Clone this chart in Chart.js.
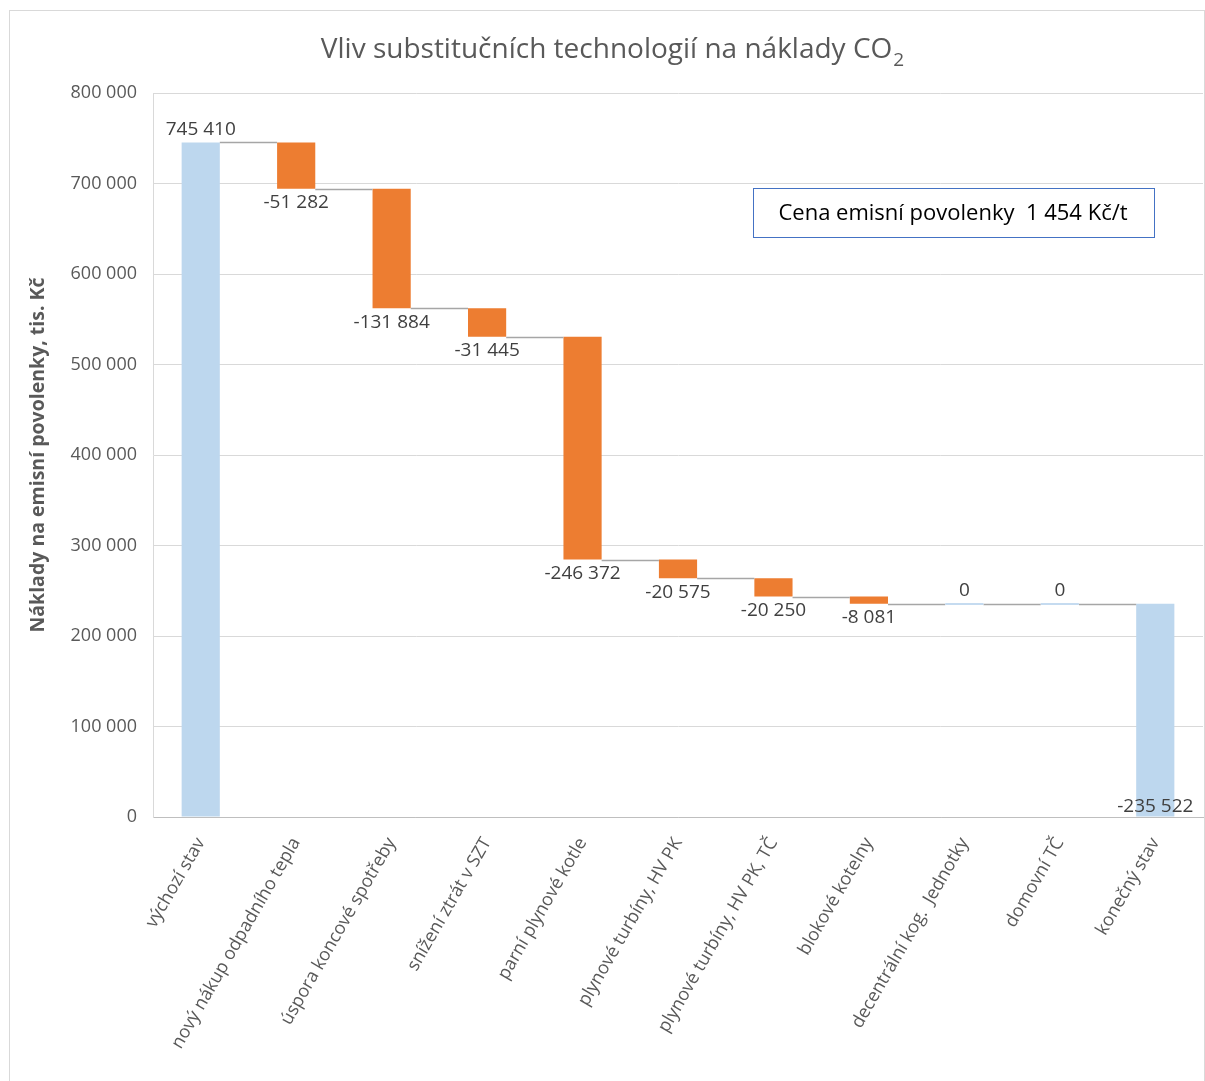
<!DOCTYPE html>
<html>
<head>
<meta charset="utf-8">
<script src="https://cdn.jsdelivr.net/npm/chart.js@4/dist/chart.umd.min.js"></script>
<style>
  html, body { margin: 0; padding: 0; background: #fff; }
  #wrap { width: 1205px; height: 1081px; position: relative; }
</style>
</head>
<body>
<div id="wrap"><canvas id="c" width="1205" height="1081"></canvas></div>
<script>
// Waterfall: starting cost, stepwise changes, closing total
const categories = [
  'výchozí stav',
  'nový nákup odpadního tepla',
  'úspora koncové spotřeby',
  'snížení ztrát v SZT',
  'parní plynové kotle',
  'plynové turbíny, HV PK',
  'plynové turbíny, HV PK, TČ',
  'blokové kotelny',
  'decentrální kog.  Jednotky',
  'domovní TČ',
  'konečný stav'
];
const startTotal = 745410;
const changes = [-51282, -131884, -31445, -246372, -20575, -20250, -8081, 0, 0];
const endTotal = -235522;          // closing total as labelled; bar height is its magnitude
const yTicks = [0, 100000, 200000, 300000, 400000, 500000, 600000, 700000, 800000];
const titleText = 'Vliv substitučních technologií na náklady CO';
const titleSub = '2';
const yTitle = 'Náklady na emisní povolenky, tis. Kč';
const noteText = 'Cena emisní povolenky  1 454 Kč/t';

const FONT = '"Open Sans", "DejaVu Sans", sans-serif';
const C_TOTAL = '#bdd7ee';
const C_DOWN = '#ed7d31';
const C_UP = '#ed7d31';

function fmt(n) {
  const s = String(Math.abs(Math.round(n))).replace(/\B(?=(\d{3})+(?!\d))/g, ' ');
  return (n < 0 ? '-' : '') + s;
}

// floating bar ranges
const ranges = [[0, startTotal]];
const kinds = ['total'];
let level = startTotal;
for (const c of changes) {
  const next = level + c;
  ranges.push([Math.min(level, next), Math.max(level, next)]);
  kinds.push(c < 0 ? 'down' : (c > 0 ? 'up' : 'zero'));
  level = next;
}
ranges.push([0, Math.abs(endTotal)]);
kinds.push('end');
const labelValues = [startTotal, ...changes, endTotal];
// level at the right side of each bar (for connectors)
const endLevels = [startTotal];
{ let l = startTotal; for (const c of changes) { l += c; endLevels.push(l); } endLevels.push(Math.abs(endTotal)); }

const colors = kinds.map(k => k === 'down' ? C_DOWN : (k === 'up' ? C_UP : C_TOTAL));

const decor = {
  id: 'decor',
  beforeDraw(chart) {
    const ctx = chart.ctx;
    ctx.save();
    ctx.fillStyle = '#fff';
    ctx.fillRect(0, 0, chart.width, chart.height);
    ctx.strokeStyle = '#d9d9d9';
    ctx.lineWidth = 1;
    ctx.strokeRect(9.5, 10.5, 1195, 1100);
    // title with subscript
    ctx.fillStyle = '#595959';
    ctx.textBaseline = 'alphabetic';
    ctx.font = '28px ' + FONT;
    const w1 = ctx.measureText(titleText).width;
    ctx.font = '19px ' + FONT;
    const w2 = ctx.measureText(titleSub).width;
    const x0 = 612 - (w1 + w2) / 2;
    ctx.font = '28px ' + FONT;
    ctx.textAlign = 'left';
    ctx.fillText(titleText, x0, 58);
    ctx.font = '19px ' + FONT;
    ctx.fillText(titleSub, x0 + w1 + 1, 66);
    ctx.restore();
  },
  afterDatasetsDraw(chart) {
    const ctx = chart.ctx;
    const meta = chart.getDatasetMeta(0);
    const y = chart.scales.y;
    ctx.save();
    // connectors
    ctx.strokeStyle = '#a6a6a6';
    ctx.lineWidth = 1.5;
    for (let i = 0; i < meta.data.length - 1; i++) {
      const a = meta.data[i], b = meta.data[i + 1];
      const yy = Math.round(y.getPixelForValue(endLevels[i])) + 0.5;
      ctx.beginPath();
      ctx.moveTo(a.x + a.width / 2, yy);
      ctx.lineTo(b.x - b.width / 2, yy);
      ctx.stroke();
    }
    // zero-height steps drawn as a thin line
    ctx.strokeStyle = '#c5dbf0';
    ctx.lineWidth = 2;
    meta.data.forEach((el, i) => {
      if (kinds[i] !== 'zero') return;
      const yy = Math.round(y.getPixelForValue(ranges[i][1]));
      ctx.beginPath();
      ctx.moveTo(el.x - el.width / 2, yy);
      ctx.lineTo(el.x + el.width / 2, yy);
      ctx.stroke();
    });
    // value labels
    ctx.fillStyle = '#404040';
    ctx.font = '19px ' + FONT;
    ctx.textAlign = 'center';
    ctx.textBaseline = 'middle';
    meta.data.forEach((el, i) => {
      const top = y.getPixelForValue(ranges[i][1]);
      const bot = y.getPixelForValue(ranges[i][0]);
      let ty;
      if (kinds[i] === 'total' || kinds[i] === 'zero') ty = top - 13;
      else if (kinds[i] === 'end') ty = bot - 10;
      else ty = bot + 14;
      ctx.fillText(fmt(labelValues[i]), el.x, ty);
    });
    // note box
    ctx.strokeStyle = '#4472c4';
    ctx.lineWidth = 1;
    ctx.strokeRect(753.5, 188.5, 401, 49);
    ctx.fillStyle = '#000';
    ctx.font = '22px ' + FONT;
    ctx.fillText(noteText, 953, 214);
    ctx.restore();
  }
};

new Chart(document.getElementById('c'), {
  type: 'bar',
  data: {
    labels: categories,
    datasets: [{
      data: ranges,
      backgroundColor: colors,
      borderWidth: 0,
      barPercentage: 0.4,
      categoryPercentage: 1.0
    }]
  },
  options: {
    responsive: false,
    animation: false,
    devicePixelRatio: 1,
    layout: { padding: { left: 27, top: 93, right: 2, bottom: 0 } },
    plugins: { legend: { display: false }, tooltip: { enabled: false }, title: { display: false } },
    scales: {
      x: {
        grid: { display: false, drawTicks: false },
        border: { color: '#bfbfbf', width: 1 },
        ticks: {
          color: '#595959',
          font: { family: FONT, size: 18 },
          minRotation: 60,
          maxRotation: 60,
          autoSkip: false,
          padding: 17
        },
        afterFit(scale) { scale.height = 1081 - 817; }
      },
      y: {
        min: 0,
        max: 800000,
        afterBuildTicks(scale) { scale.ticks = yTicks.map(v => ({ value: v })); },
        grid: { color: '#d9d9d9', lineWidth: 1, drawTicks: false },
        border: { color: '#d9d9d9', width: 1 },
        ticks: {
          color: '#595959',
          font: { family: FONT, size: 18 },
          padding: 16,
          callback: v => fmt(v)
        },
        title: {
          display: true,
          text: yTitle,
          color: '#595959',
          font: { family: FONT, size: 19.5, weight: 'bold' },
          padding: { top: 0, bottom: 0 }
        },
        afterFit(scale) { scale.width = 153 - 27; }
      }
    }
  },
  plugins: [decor]
});
</script>
</body>
</html>
